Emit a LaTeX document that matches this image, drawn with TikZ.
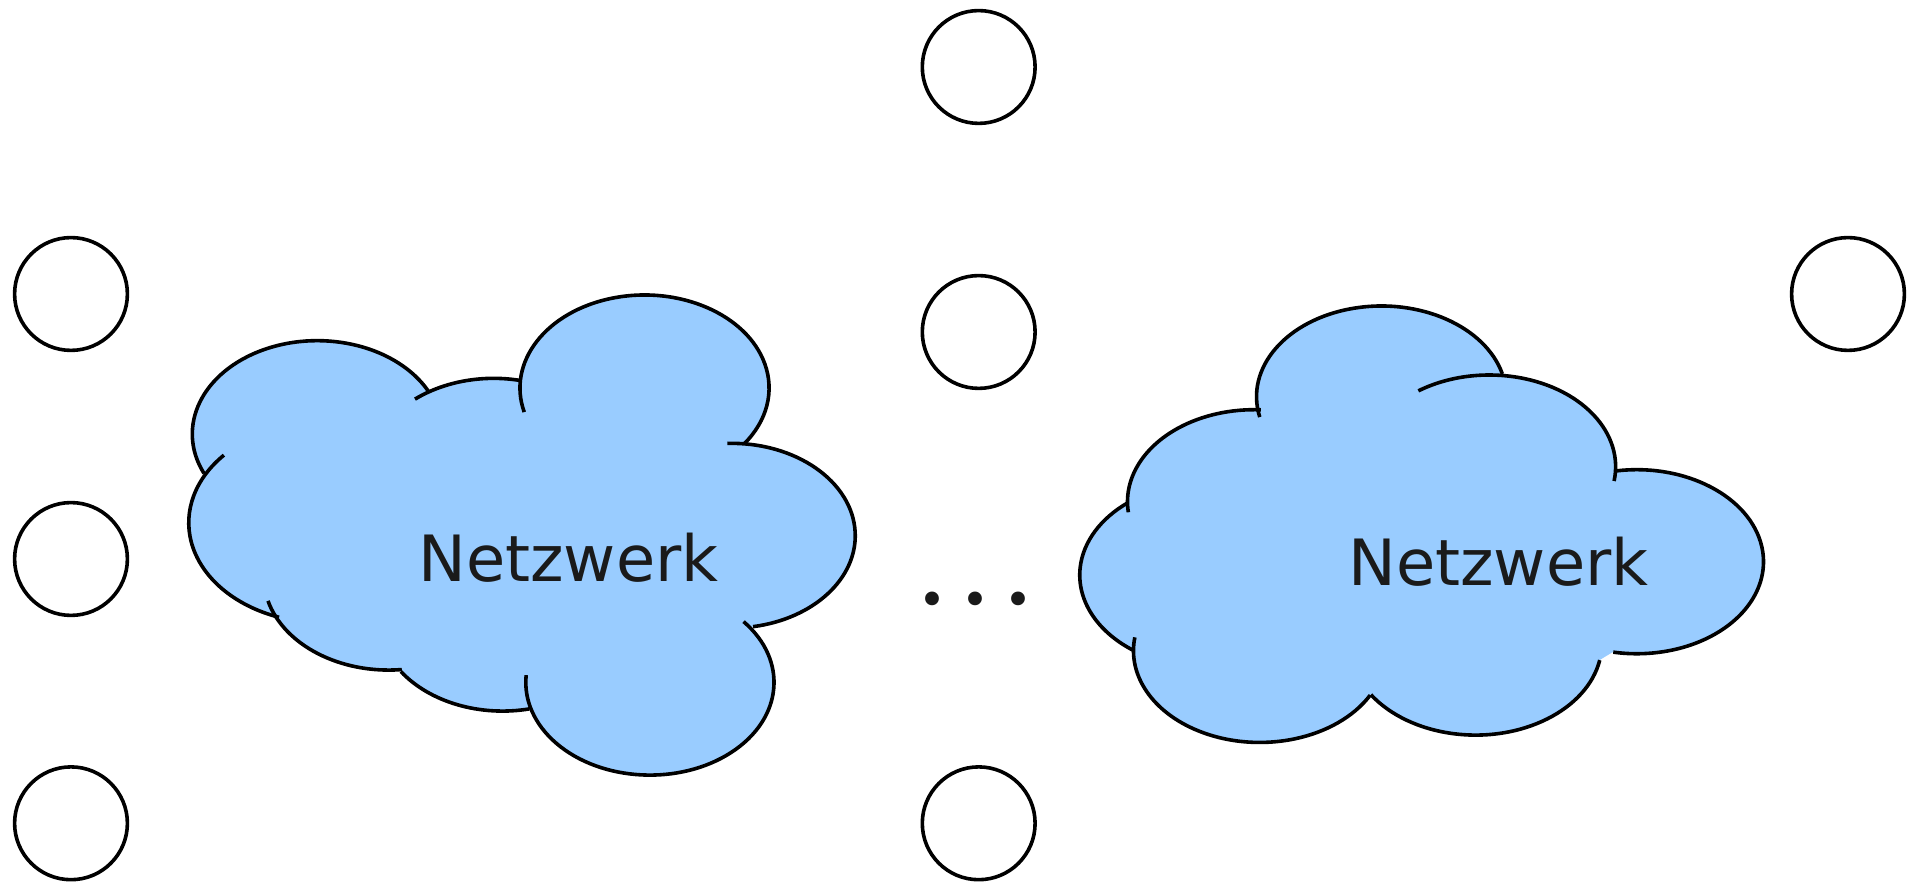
\documentclass[tikz,border=0pt]{standalone}
\usepackage{fontspec}
\setmainfont{DejaVu Sans}
\definecolor{cloudblue}{HTML}{99CCFF}
\definecolor{labelgray}{HTML}{1A1A1A}
\tikzset{
    host/.style={circle,draw=black,fill=white,line width=1.8pt,minimum size=56.4pt,inner sep=0pt},
    netlabel/.style={anchor=base,inner sep=0pt,text=labelgray,font=\fontsize{31.9}{36}\selectfont},
    dotlabel/.style={anchor=base,inner sep=0pt,text=labelgray,font=\fontsize{23.7}{28}\selectfont},
}
\begin{document}
\begin{tikzpicture}[x=0.5pt,y=0.5pt,line join=round,line cap=butt]
    \useasboundingbox (0,0) rectangle (1922,882);
    % hosts
    \node[host] (h1) at (978.7,815) {};
    \node[host] (h2) at (978.7,550) {};
    \node[host] (h3) at (978.7,58.7) {};
    \node[host] (l1) at (71,588) {};
    \node[host] (l2) at (71,323) {};
    \node[host] (l3) at (71,58.7) {};
    \node[host] (r1) at (1848,588) {};
    % left cloud
    \begin{scope}[shift={(170,612)},x=0.2232pt,y=0.1667pt]
        \fill[cloudblue] (330,-492)--(725,-605)--(1063,-354)--(1258,-797)--(1075,-1237)--(745,-1045)--(490,-920)--(342,-758)--cycle;
        \foreach \cx/\cy/\r in {330/492/280,725/605/280,1063/354/279,1258/797/277,1075/1237/278,745/1045/278,490/920/280,342/758/300}
        \fill[cloudblue] (\cx,-\cy) circle [radius=\r];
        \foreach \cx/\cy/\r/\a/\b in {330/492/280/205/27,725/605/280/129/78,1063/354/279/195/-37,1258/797/277/92/-80,1075/1237/278/41/-184.5,745/1045/278/-77.5/-145,490/920/280/-84/-165,342/758/300/251/137.5}
        \draw[line width=1.8pt] ({\cx+\r*cos(\a)},{-\cy+\r*sin(\a)}) arc [start angle=\a,end angle=\b,radius=\r];
    \end{scope}
    % right cloud
    \begin{scope}[shift={(1060,602)},x=0.2296pt,y=0.1667pt]
        \fill[cloudblue] (700,-350)--(935,-560)--(1256,-845)--(1205,-1115)--(1175,-1140)--(905,-1090)--(435,-1112)--(320,-885)--(423,-665)--cycle;
        \foreach \cx/\cy/\r in {700/350/272,935/560/275,1256/845/276,905/1090/275,435/1112/275,320/885/277,423/665/276}
        \fill[cloudblue] (\cx,-\cy) circle [radius=\r];
        \foreach \cx/\cy/\r/\a/\b in {700/350/272/193/14.5,935/560/275/124.2/-9,1256/845/276/99.5/-100.7,905/1090/275/-10.5/-146,435/1112/275/-29/-188.4,320/885/277/235/128.5,423/665/276/186.6/87}
        \draw[line width=1.8pt] ({\cx+\r*cos(\a)},{-\cy+\r*sin(\a)}) arc [start angle=\a,end angle=\b,radius=\r];
    \end{scope}
    \node[netlabel] (n1) at (568.5,300.3) {Netzwerk};
    \node[netlabel] (n2) at (1498.5,296.3) {Netzwerk};
    \node[dotlabel] (dots) at (975.3,265.5) {• • •};
\end{tikzpicture}
\end{document}
